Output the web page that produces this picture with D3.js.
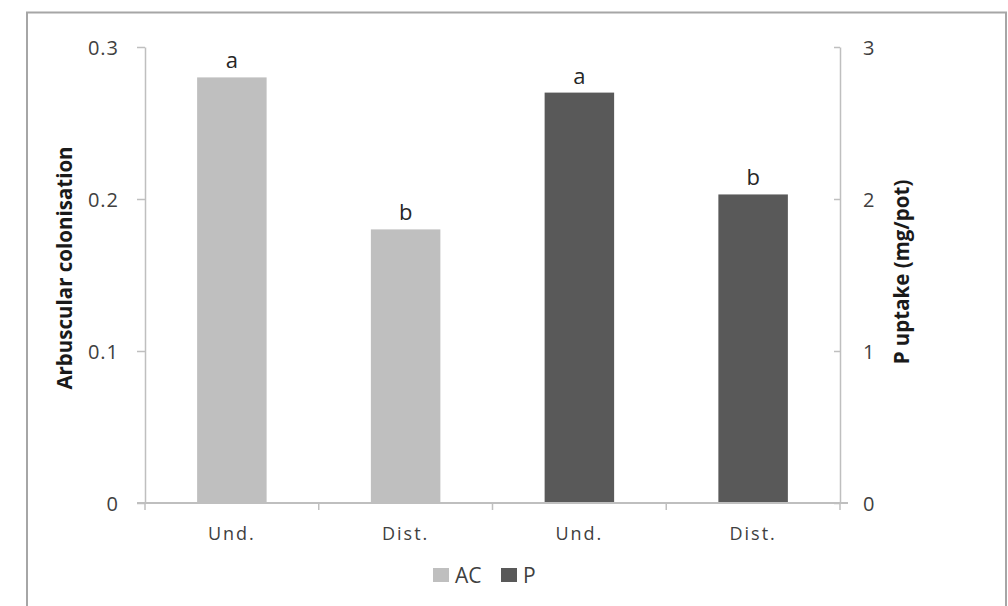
<!DOCTYPE html>
<html><head><meta charset="utf-8">
<script src="https://cdn.jsdelivr.net/npm/d3@7"></script>
<style>
html,body{margin:0;padding:0;background:#fff;}
svg{display:block;font-family:"Open Sans","Liberation Sans",sans-serif;}
</style></head>
<body><svg id="c" width="1008" height="606"></svg>
<script>
const categories = ["Und.", "Dist.", "Und.", "Dist."];
const series = ["AC", "AC", "P", "P"];
const values = [0.28, 0.18, 2.70, 2.03];
const letters = ["a", "b", "a", "b"];
const leftTicks = [0, 0.1, 0.2, 0.3];
const rightTicks = [0, 1, 2, 3];
const legendItems = ["AC", "P"];
const colors = {AC: "#bfbfbf", P: "#595959"};

const svg = d3.select("#c");
const W = 1008, H = 606;
const x0 = 145, x1 = 840, yTop = 47, yBot = 503;
const FONT = "'Open Sans','Liberation Sans',sans-serif";

svg.append("rect").attr("x", 0).attr("y", 0).attr("width", W).attr("height", H).attr("fill", "#fff");
// outer frame
svg.append("rect").attr("x", 27).attr("y", 12.5).attr("width", 979).attr("height", 620)
  .attr("fill", "none").attr("stroke", "#a6a6a6").attr("stroke-width", 2);

const x = d3.scaleBand().domain(d3.range(categories.length)).range([x0, x1]).paddingInner(0.6).paddingOuter(0.3);
const yL = d3.scaleLinear().domain([0, 0.3]).range([yBot, yTop]);
const yR = d3.scaleLinear().domain([0, 3]).range([yBot, yTop]);
const yFor = i => series[i] === "AC" ? yL : yR;

const axisColor = "#bfbfbf", textColor = "#404040";

// left axis
const gL = svg.append("g").attr("transform", `translate(${x0},0)`)
  .call(d3.axisLeft(yL).tickValues(leftTicks).tickSize(8).tickSizeOuter(0)
    .tickFormat(d => d === 0 ? "0" : d3.format(".1f")(d)));
// right axis
const gR = svg.append("g").attr("transform", `translate(${x1},0)`)
  .call(d3.axisRight(yR).tickValues(rightTicks).tickSize(-6).tickSizeOuter(0).tickFormat(d3.format("d")));

[gL, gR].forEach(g => {
  g.attr("font-size", null).attr("font-family", null);
  g.select(".domain").attr("stroke", axisColor).attr("stroke-width", 1.5);
  g.selectAll(".tick line").attr("stroke", axisColor).attr("stroke-width", 1.5);
  g.selectAll("text").attr("fill", textColor).style("font-size", "20px")
    .style("font-family", FONT).style("letter-spacing", "1px").attr("dy", "0.35em");
});
gL.selectAll("text").attr("x", -26);
gR.selectAll("text").attr("x", 23);

// bars
svg.append("g").selectAll("rect").data(values).join("rect")
  .attr("x", (d, i) => x(i)).attr("width", x.bandwidth())
  .attr("y", (d, i) => yFor(i)(d)).attr("height", (d, i) => yBot - yFor(i)(d))
  .attr("fill", (d, i) => colors[series[i]]);

// significance letters
svg.append("g").selectAll("text").data(values).join("text")
  .attr("x", (d, i) => x(i) + x.bandwidth() / 2).attr("y", (d, i) => yFor(i)(d) - 9)
  .attr("text-anchor", "middle").style("font-size", "22px").attr("fill", "#262626")
  .text((d, i) => letters[i]);

// x axis
const xEdges = d3.range(categories.length + 1).map(i => x0 + i * x.step());
svg.append("line").attr("x1", 137).attr("x2", x1 + 8).attr("y1", yBot).attr("y2", yBot)
  .attr("stroke", axisColor).attr("stroke-width", 2);
svg.append("g").selectAll("line").data(xEdges).join("line")
  .attr("x1", d => d).attr("x2", d => d).attr("y1", yBot).attr("y2", yBot + 7)
  .attr("stroke", axisColor).attr("stroke-width", 1.5);
svg.append("g").selectAll("text").data(categories).join("text")
  .attr("x", (d, i) => x(i) + x.bandwidth() / 2).attr("y", 540)
  .attr("text-anchor", "middle").style("font-size", "18px").style("letter-spacing", "2px")
  .attr("fill", textColor).text(d => d);

// axis titles
svg.append("text").attr("transform", `translate(72,${(yTop + yBot) / 2 - 7}) rotate(-90)`)
  .attr("text-anchor", "middle").style("font-size", "20.5px").attr("font-weight", "bold").attr("fill", "#1a1a1a")
  .text("Arbuscular colonisation");
svg.append("text").attr("transform", `translate(909,${(yTop + yBot) / 2 - 3}) rotate(-90)`)
  .attr("text-anchor", "middle").style("font-size", "20.5px").attr("font-weight", "bold").attr("fill", "#1a1a1a")
  .text("P uptake (mg/pot)");

// legend
const legendX = [433, 501];
const lg = svg.append("g").selectAll("g").data(legendItems).join("g")
  .attr("transform", (d, i) => `translate(${legendX[i]},568)`);
lg.append("rect").attr("width", 16).attr("height", 14).attr("fill", d => colors[d]);
lg.append("text").attr("x", 22).attr("y", 14.5).style("font-size", "21px").attr("fill", textColor).text(d => d);
</script></body></html>
